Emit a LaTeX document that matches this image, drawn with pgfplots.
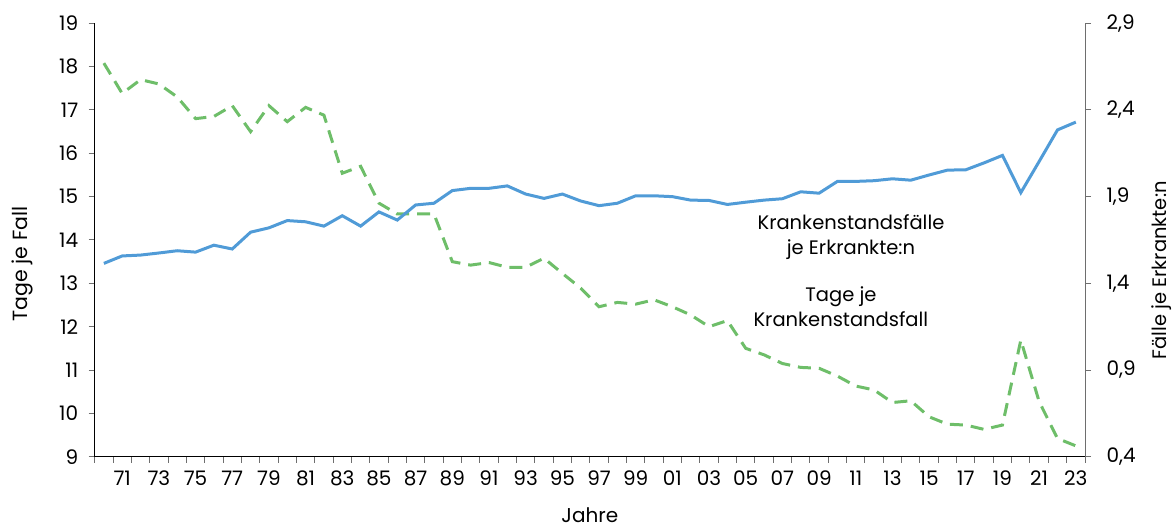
\documentclass[border=0pt]{standalone}
\usepackage{pgfplots}
\pgfplotsset{compat=1.18}
\usepackage{fontspec}
\setmainfont{Poppins}
\definecolor{cblue}{RGB}{80,155,215}
\definecolor{cgreen}{RGB}{110,190,105}
\definecolor{tickgray}{RGB}{110,110,110}
\begin{document}
\begin{tikzpicture}
\useasboundingbox (0,0) rectangle (1172pt,526pt);
\pgfplotsset{
 common/.style={
  at={(94.7pt,69.3pt)}, anchor=south west,
  scale only axis, width=990.3pt, height=433.4pt,
  xmin=1969.5, xmax=2023.5,
  /pgf/number format/assume math mode=true,
  tick label style={font=\fontsize{20}{24}\selectfont, text=black},
  tick align=outside,
  major tick length=6pt,
  tick style={tickgray, line width=1pt},
  axis line style={-, line width=1pt},
 }
}
\begin{axis}[common,
  axis x line*=bottom, axis y line*=left,
  ymin=9, ymax=19, ytick={9,10,...,19},
  yticklabel style={xshift=-7pt},
  xtick={1969.5,1970.5,...,2023.5},
  xticklabel=\empty,
  extra x ticks={1971,1973,...,2023},
  extra x tick labels={71,73,75,77,79,81,83,85,87,89,91,93,95,97,99,01,03,05,07,09,11,13,15,17,19,21,23},
  extra x tick style={major tick length=0pt, xticklabel style={yshift=-10.5pt}},
  clip=false,
]
\addplot[cgreen, line width=3pt, dash pattern=on 13pt off 8pt] coordinates {
(1970,18.08)(1971,17.38)(1972,17.70)(1973,17.60)(1974,17.30)(1975,16.80)(1976,16.85)(1977,17.10)(1978,16.50)(1979,17.10)
(1980,16.73)(1981,17.06)(1982,16.88)(1983,15.54)(1984,15.70)(1985,14.85)(1986,14.60)(1987,14.60)(1988,14.60)(1989,13.50)
(1990,13.42)(1991,13.48)(1992,13.37)(1993,13.37)(1994,13.58)(1995,13.23)(1996,12.89)(1997,12.46)(1998,12.56)(1999,12.52)
(2000,12.62)(2001,12.46)(2002,12.27)(2003,12.00)(2004,12.14)(2005,11.50)(2006,11.35)(2007,11.15)(2008,11.06)(2009,11.04)
(2010,10.86)(2011,10.63)(2012,10.54)(2013,10.25)(2014,10.29)(2015,9.92)(2016,9.75)(2017,9.73)(2018,9.63)(2019,9.73)
(2020,11.69)(2021,10.27)(2022,9.42)(2023,9.25)
};
\node[rotate=90, font=\fontsize{20.5}{24}\selectfont] at (axis description cs:-0.0734,0.445) {Tage je Fall};
\node[inner sep=0pt, font=\fontsize{20}{24}\selectfont] at (axis description cs:0.5,-0.136) {Jahre};
\node[rotate=90, font=\fontsize{19.5}{24}\selectfont] at (axis description cs:1.0778,0.43) {Fälle je Erkrankte:n};
\node[align=center, font=\fontsize{19.5}{25}\selectfont] at (axis cs:2010.74,14.06) {Krankenstandsfälle\\je Erkrankte:n};
\node[align=center, font=\fontsize{19.5}{25}\selectfont] at (axis cs:2010.19,12.47) {Tage je\\Krankenstandsfall};
\end{axis}
\begin{axis}[common,
  axis x line=none, axis y line*=right,
  axis line style={tickgray},
  ymin=0.4, ymax=2.9, ytick={0.4,0.9,1.4,1.9,2.4,2.9},
  yticklabel style={xshift=12pt, /pgf/number format/.cd, use comma, fixed, fixed zerofill, precision=1},
]
\addplot[cblue, line width=3pt] coordinates {
(1970,1.515)(1971,1.558)(1972,1.563)(1973,1.575)(1974,1.588)(1975,1.580)(1976,1.620)(1977,1.598)(1978,1.695)(1979,1.720)
(1980,1.762)(1981,1.755)(1982,1.730)(1983,1.790)(1984,1.730)(1985,1.812)(1986,1.765)(1987,1.852)(1988,1.862)(1989,1.935)
(1990,1.948)(1991,1.948)(1992,1.962)(1993,1.915)(1994,1.890)(1995,1.915)(1996,1.875)(1997,1.848)(1998,1.862)(1999,1.905)
(2000,1.905)(2001,1.900)(2002,1.880)(2003,1.878)(2004,1.855)(2005,1.868)(2006,1.880)(2007,1.888)(2008,1.928)(2009,1.920)
(2010,1.988)(2011,1.988)(2012,1.992)(2013,2.003)(2014,1.995)(2015,2.025)(2016,2.053)(2017,2.055)(2018,2.095)(2019,2.138)
(2020,1.923)(2021,2.103)(2022,2.285)(2023,2.330)
};
\end{axis}
\end{tikzpicture}
\end{document}
